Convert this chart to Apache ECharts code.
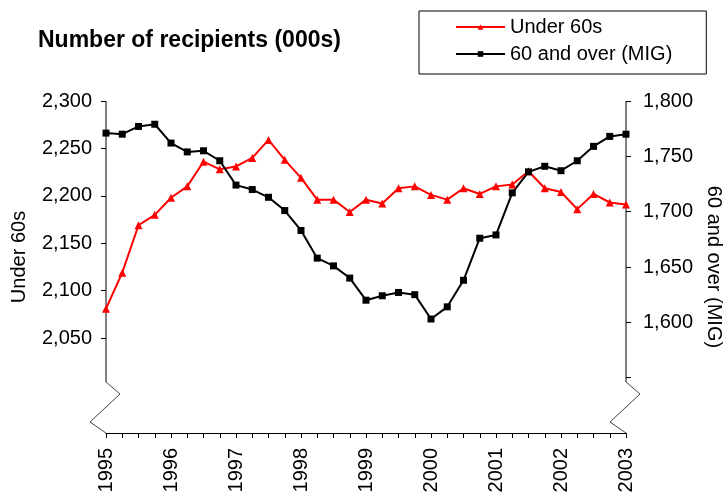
<!DOCTYPE html>
<html>
<head>
<meta charset="utf-8">
<script src="https://cdn.jsdelivr.net/npm/echarts@6/dist/echarts.min.js"></script>
<style>
  html, body { margin: 0; padding: 0; background: #fff; }
  #chart { width: 723px; height: 498px; }
</style>
</head>
<body>
<div id="chart"></div>
<script>
// quarterly, 1995 Q1 .. 2003 Q1
const quarters = [
  '1995 Q1', '1995 Q2', '1995 Q3', '1995 Q4',
  '1996 Q1', '1996 Q2', '1996 Q3', '1996 Q4',
  '1997 Q1', '1997 Q2', '1997 Q3', '1997 Q4',
  '1998 Q1', '1998 Q2', '1998 Q3', '1998 Q4',
  '1999 Q1', '1999 Q2', '1999 Q3', '1999 Q4',
  '2000 Q1', '2000 Q2', '2000 Q3', '2000 Q4',
  '2001 Q1', '2001 Q2', '2001 Q3', '2001 Q4',
  '2002 Q1', '2002 Q2', '2002 Q3', '2002 Q4',
  '2003 Q1'
];
const under60 = [
  2081, 2119, 2169, 2180, 2198, 2210, 2236, 2228,
  2231, 2240, 2259, 2238, 2219, 2196, 2196, 2183,
  2196, 2192, 2208, 2210, 2201, 2196, 2208, 2202,
  2210, 2212, 2226, 2208, 2204, 2186, 2202, 2193,
  2191
];
const over60 = [
  1771, 1770, 1777, 1779, 1762, 1754, 1755, 1746,
  1724, 1720, 1713, 1701, 1683, 1658, 1651, 1640,
  1620, 1624, 1627, 1625, 1603, 1614, 1638, 1676,
  1679, 1717, 1736, 1741, 1737, 1746, 1759, 1768,
  1770
];
const leftTicks = [2050, 2100, 2150, 2200, 2250, 2300];
const rightTicks = [1550, 1600, 1650, 1700, 1750, 1800];
const rightLabels = [1600, 1650, 1700, 1750, 1800];

const FONT = '"Liberation Sans", Arial, sans-serif';
const fmt = v => String(v).replace(/\B(?=(\d{3})+(?!\d))/g, ',');

const chart = echarts.init(document.getElementById('chart'));
chart.setOption({
  animation: false,
  textStyle: { fontFamily: FONT },
  title: {
    text: 'Number of recipients (000s)',
    left: 33, top: 24,
    textStyle: { fontSize: 23, fontWeight: 'bold', color: '#000', fontFamily: FONT }
  },
  legend: {
    orient: 'vertical',
    left: 419, top: 11,
    padding: [6, 34, 10, 36],
    itemWidth: 49, itemHeight: 7, itemGap: 7,
    borderColor: '#000', borderWidth: 1,
    textStyle: { fontSize: 20, color: '#000', lineHeight: 20 },
    data: ['Under 60s', '60 and over (MIG)']
  },
  grid: { left: 106, right: 97, top: 101, bottom: 65, containLabel: false, outerBoundsMode: 'none' },
  xAxis: {
    type: 'category',
    data: quarters,
    boundaryGap: false,
    axisLine: { lineStyle: { color: '#000', width: 1 } },
    axisTick: { interval: 0, length: 5, lineStyle: { color: '#000' } },
    axisLabel: {
      interval: 3, rotate: 90, margin: 15,
      fontSize: 20, color: '#000',
      formatter: v => v.slice(0, 4)
    }
  },
  yAxis: [{
    type: 'value',
    min: 1950, max: 2300, interval: 50,
    name: 'Under 60s', nameLocation: 'middle', nameGap: 77,
    nameTextStyle: { fontSize: 20, color: '#000', padding: [0, 0, 0, 20] },
    splitLine: { show: false },
    axisLine: { show: false },
    axisTick: { show: true, length: 5, customValues: leftTicks, lineStyle: { color: '#000' } },
    axisLabel: { fontSize: 20, color: '#000', margin: 14, customValues: leftTicks, formatter: fmt }
  }, {
    type: 'value',
    min: 1500, max: 1800, interval: 50,
    position: 'right',
    name: '60 and over (MIG)', nameLocation: 'middle', nameGap: 73, nameRotate: -90,
    nameTextStyle: { fontSize: 20, color: '#000' },
    splitLine: { show: false },
    axisLine: { show: false },
    axisTick: { show: true, length: 5, customValues: rightTicks, lineStyle: { color: '#000' } },
    axisLabel: { fontSize: 20, color: '#000', margin: 17, customValues: rightLabels, formatter: fmt }
  }],
  series: [{
    name: 'Under 60s',
    type: 'line',
    yAxisIndex: 0,
    data: under60,
    symbol: 'triangle', symbolSize: 8,
    lineStyle: { color: '#ff0000', width: 2 },
    itemStyle: { color: '#ff0000' }
  }, {
    name: '60 and over (MIG)',
    type: 'line',
    yAxisIndex: 1,
    data: over60,
    symbol: 'rect', symbolSize: 7,
    lineStyle: { color: '#000', width: 2 },
    itemStyle: { color: '#000' }
  }]
});

// broken y axes: solid line down to the break, then a zigzag to the x axis
const xl = chart.convertToPixel({ xAxisIndex: 0 }, 0);
const xr = chart.convertToPixel({ xAxisIndex: 0 }, quarters.length - 1);
const yTop = chart.convertToPixel({ yAxisIndex: 1 }, 1800);
const yBot = chart.convertToPixel({ yAxisIndex: 1 }, 1500);
const yBrk = yBot - 51;
const zig = x => [[x, yBrk], [x + 14, yBrk + 12], [x - 16, yBrk + 40], [x, yBot]];
chart.setOption({
  graphic: [
    { type: 'line', shape: { x1: xl, y1: yTop, x2: xl, y2: yBrk }, style: { stroke: '#000', lineWidth: 1 } },
    { type: 'line', shape: { x1: xr, y1: yTop, x2: xr, y2: yBrk }, style: { stroke: '#000', lineWidth: 1 } },
    { type: 'polyline', shape: { points: zig(xl) }, style: { stroke: '#444', lineWidth: 1, fill: null } },
    { type: 'polyline', shape: { points: zig(xr) }, style: { stroke: '#444', lineWidth: 1, fill: null } }
  ]
});
</script>
</body>
</html>
